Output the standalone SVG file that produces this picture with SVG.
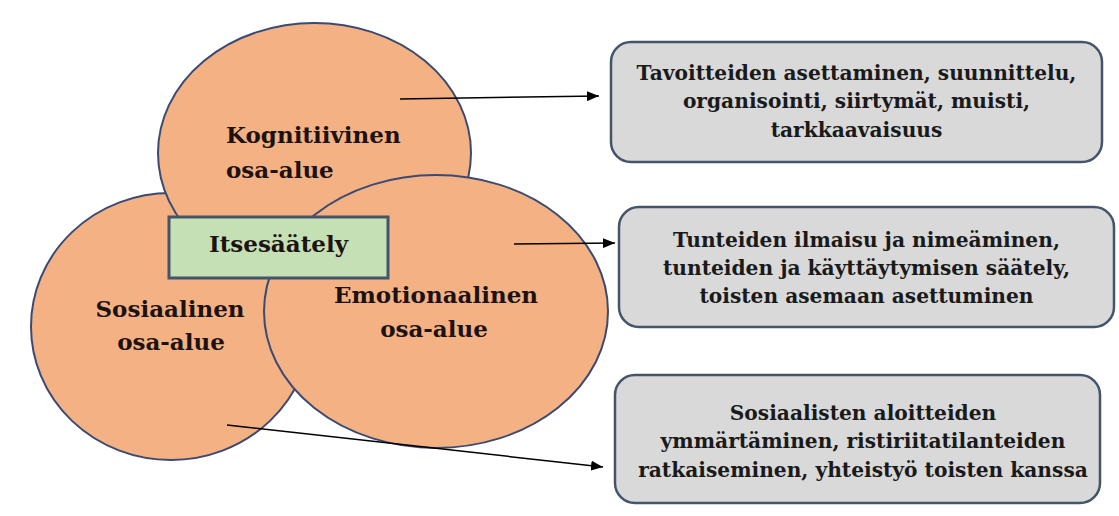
<svg xmlns="http://www.w3.org/2000/svg" width="1119" height="516" viewBox="0 0 1119 516">
<defs>
<style>
.circ{fill:#f4b183;stroke:#3b4a72;stroke-width:2}
.lbl{font-family:"DejaVu Serif","Liberation Serif",serif;font-weight:bold;font-size:23px;fill:#1c1212}
.box{fill:#d9d9d9;stroke:#44546a;stroke-width:2.5}
.btxt{font-family:"DejaVu Serif","Liberation Serif",serif;font-weight:bold;font-size:20.2px;fill:#1a1a1a;text-anchor:middle}
.conn{stroke:#000;stroke-width:1.5;fill:none}
</style>
<marker id="arr" viewBox="0 0 12 10" refX="12" refY="5" markerWidth="12" markerHeight="10" markerUnits="userSpaceOnUse" orient="auto">
<path d="M0,0 L12,5 L0,10 Z" fill="#000"/>
</marker>
</defs>
<rect width="1119" height="516" fill="#fff"/>
<g id="sosiaalinen">
<ellipse class="circ" cx="171" cy="326.5" rx="140" ry="133.5"/>
<text class="lbl" x="170" y="317" text-anchor="middle">Sosiaalinen</text>
<text class="lbl" x="171" y="350" text-anchor="middle">osa-alue</text>
</g>
<g id="kognitiivinen">
<ellipse class="circ" cx="314.5" cy="153" rx="156.5" ry="130"/>
<text class="lbl" x="226" y="143">Kognitiivinen</text>
<text class="lbl" x="226" y="178">osa-alue</text>
</g>
<g id="emotionaalinen">
<ellipse class="circ" cx="436" cy="311.5" rx="172" ry="136.5"/>
<text class="lbl" x="436" y="303" text-anchor="middle">Emotionaalinen</text>
<text class="lbl" x="434" y="337" text-anchor="middle">osa-alue</text>
</g>
<g id="itsesaately">
<rect x="169" y="217" width="219" height="61" fill="#c5e0b4" stroke="#44546a" stroke-width="3"/>
<text class="lbl" x="278.5" y="252" text-anchor="middle" font-size="23">Itsesäätely</text>
</g>
<g id="box-kognitiivinen">
<rect class="box" x="611" y="42" width="491" height="120" rx="20"/>
<text class="btxt" x="856.5" y="80">Tavoitteiden asettaminen, suunnittelu,</text>
<text class="btxt" x="856.5" y="108">organisointi, siirtymät, muisti,</text>
<text class="btxt" x="856.5" y="137">tarkkaavaisuus</text>
</g>
<g id="box-emotionaalinen">
<rect class="box" x="619" y="207" width="495" height="120" rx="20"/>
<text class="btxt" x="866.5" y="247">Tunteiden ilmaisu ja nimeäminen,</text>
<text class="btxt" x="866.5" y="275">tunteiden ja käyttäytymisen säätely,</text>
<text class="btxt" x="866.5" y="303">toisten asemaan asettuminen</text>
</g>
<g id="box-sosiaalinen">
<rect class="box" x="615" y="375" width="485" height="128" rx="20"/>
<text class="btxt" x="863" y="420">Sosiaalisten aloitteiden</text>
<text class="btxt" x="863" y="448">ymmärtäminen, ristiriitatilanteiden</text>
<text class="btxt" x="863" y="477">ratkaiseminen, yhteistyö toisten kanssa</text>
</g>
<g id="connectors">
<line class="conn" x1="400" y1="99" x2="599" y2="96" marker-end="url(#arr)"/>
<line class="conn" x1="514" y1="244" x2="615" y2="243" marker-end="url(#arr)"/>
<line class="conn" x1="227" y1="425" x2="603" y2="467" marker-end="url(#arr)"/>
</g>
</svg>
